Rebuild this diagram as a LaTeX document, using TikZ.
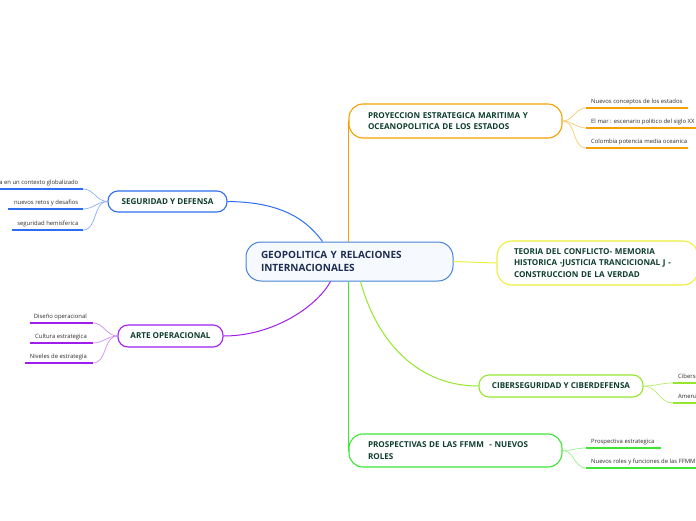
\documentclass[tikz,border=0pt]{standalone}
\usepackage{fontspec}
\setmainfont{Open Sans}
\usepackage{xcolor}
\usetikzlibrary{positioning}
\definecolor{geoborder}{RGB}{70,130,210}
\definecolor{geofill}{RGB}{246,250,255}
\definecolor{geotext}{RGB}{30,45,80}
\definecolor{topictext}{RGB}{14,62,46}
\definecolor{leaftext}{RGB}{45,45,45}
\definecolor{segblue}{RGB}{45,110,240}
\definecolor{artepurple}{RGB}{160,30,235}
\definecolor{proyorange}{RGB}{245,160,0}
\definecolor{teoyellow}{RGB}{238,238,60}
\definecolor{cibgreen}{RGB}{150,230,45}
\definecolor{prosgreen}{RGB}{60,230,50}

\begin{document}
\begin{tikzpicture}[x=1pt, y=-1pt]
    % Define styles
    \tikzstyle{central} = [rectangle, rounded corners=15pt, draw=geoborder, fill=geofill, line width=1pt, text=geotext, font=\bfseries\fontsize{10}{13}\selectfont, align=left, inner xsep=15pt]
    \tikzstyle{topic} = [rectangle, rounded corners=10pt, fill=white, line width=1.1pt, text=topictext, font=\bfseries\fontsize{8.1}{11.5}\selectfont]
    \tikzstyle{leafR} = [inner xsep=5pt, inner ysep=2.5pt, anchor=south west, text=leaftext, font=\fontsize{5.9}{7}\selectfont, text height=4.4pt, text depth=1.4pt]
    \tikzstyle{leafL} = [inner xsep=4.5pt, inner ysep=2.5pt, anchor=south east, text=leaftext, font=\fontsize{5.9}{7}\selectfont, text height=4.4pt, text depth=1.4pt]
    \tikzstyle{conn} = [line width=1pt]
    \tikzstyle{twig} = [line width=0.7pt]
    \tikzstyle{leafline} = [line width=1.8pt]

    \useasboundingbox (0,0) rectangle (696,520);

    % Nodes
    \node (geo) [central, minimum width=207pt, minimum height=39pt, text width=177pt] at (349.5,261.5) {GEOPOLITICA Y RELACIONES\\INTERNACIONALES};

    \node (segdef) [topic, draw=segblue, minimum width=119pt, minimum height=21pt] at (167.5,201.5) {SEGURIDAD Y DEFENSA};
    \node (arteop) [topic, draw=artepurple, minimum width=105pt, minimum height=22pt] at (170.5,336) {ARTE OPERACIONAL};
    \node (proyec) [topic, draw=proyorange, rounded corners=14pt, minimum width=213pt, minimum height=34pt, text width=175pt, inner xsep=19pt, align=left] at (455.5,121) {PROYECCION ESTRATEGICA MARITIMA Y\\OCEANOPOLITICA DE LOS ESTADOS};
    \node (teoria) [topic, draw=teoyellow, rounded corners=15pt, minimum width=201pt, minimum height=44pt, text width=167pt, inner xsep=17pt, align=left] at (597.5,263) {TEORIA DEL CONFLICTO- MEMORIA\\HISTORICA -JUSTICIA TRANCICIONAL J -\\CONSTRUCCION DE LA VERDAD};
    \node (ciber) [topic, draw=cibgreen, minimum width=164pt, minimum height=22pt] at (561,386) {CIBERSEGURIDAD Y CIBERDEFENSA};
    \node (prosp) [topic, draw=prosgreen, rounded corners=14pt, minimum width=213pt, minimum height=33pt, text width=175pt, inner xsep=19pt, align=left] at (455.5,450.5) {PROSPECTIVAS DE LAS FFMM \ - NUEVOS\\ROLES};

    \node (segdef1) [leafL] at (83,189) {a en un contexto globalizado};
    \node (segdef2) [leafL] at (83,209) {nuevos retos y desafios};
    \node (segdef3) [leafL] at (83,230) {seguridad hemisferica};

    \node (arteop1) [leafL, inner xsep=6pt] at (93,323) {Diseño operacional};
    \node (arteop2) [leafL, inner xsep=6pt] at (93,343) {Cultura estrategica};
    \node (arteop3) [leafL, inner xsep=6pt] at (93,363) {Niveles de estrategia};

    \node (proyec1) [leafR] at (586,108) {Nuevos conceptos de los estados};
    \node (proyec2) [leafR] at (586,128) {El mar : escenario politico del siglo XX};
    \node (proyec3) [leafR] at (586,148) {Colombia potencia media oceanica};

    \node (ciber1) [leafR] at (673,383) {Ciberse};
    \node (ciber2) [leafR] at (673,403) {Amenaza};

    \node (prosp1) [leafR] at (586,448) {Prospectiva estrategica};
    \node (prosp2) [leafR] at (586,468) {Nuevos roles y funciones de las FFMM};

    % Branches
    \draw [conn, segblue] (segdef.east) .. controls (285,202) and (308,222) .. ([xshift=-27pt]geo.north);
    \draw [conn, artepurple] (arteop.east) .. controls (275,336) and (318,305) .. ([xshift=-19pt]geo.south);
    \draw [conn, proyorange] (proyec.west |- geo.north) -- (proyec.west);
    \draw [conn, teoyellow] (geo.east) -- (teoria.west);
    \draw [conn, cibgreen] ([xshift=11pt]geo.south) .. controls (378,345) and (420,386) .. (ciber.west);
    \draw [conn, prosgreen] (prosp.west |- geo.south) -- (prosp.west);

    % Twigs
    \draw [twig, segblue!55] (segdef.west) to[out=180, in=0] (segdef1.south east);
    \draw [twig, segblue!55] (segdef.west) to[out=180, in=0] (segdef2.south east);
    \draw [twig, segblue!55] (segdef.west) to[out=180, in=0] (segdef3.south east);
    \draw [twig, artepurple!50] (arteop.west) to[out=180, in=0] (arteop1.south east);
    \draw [twig, artepurple!50] (arteop.west) to[out=180, in=0] (arteop2.south east);
    \draw [twig, artepurple!50] (arteop.west) to[out=180, in=0] (arteop3.south east);
    \draw [twig, proyorange!55] (proyec.east) to[out=0, in=180] (proyec1.south west);
    \draw [twig, proyorange!55] (proyec.east) to[out=0, in=180] (proyec2.south west);
    \draw [twig, proyorange!55] (proyec.east) to[out=0, in=180] (proyec3.south west);
    \draw [twig, cibgreen!70] (ciber.east) to[out=0, in=180] (ciber1.south west);
    \draw [twig, cibgreen!70] (ciber.east) to[out=0, in=180] (ciber2.south west);
    \draw [twig, prosgreen!55] (prosp.east) to[out=0, in=180] (prosp1.south west);
    \draw [twig, prosgreen!55] (prosp.east) to[out=0, in=180] (prosp2.south west);

    % Underlines
    \draw [leafline, segblue] (segdef1.south east) -- ++(-84,0);
    \draw [leafline, segblue] (segdef2.south east) -- ++(-75,0);
    \draw [leafline, segblue] (segdef3.south east) -- ++(-71,0);
    \draw [leafline, artepurple] (arteop1.south east) -- ++(-63,0);
    \draw [leafline, artepurple] (arteop2.south east) -- ++(-63,0);
    \draw [leafline, artepurple] (arteop3.south east) -- ++(-68,0);
    \draw [leafline, proyorange] (proyec1.south west) -- ++(102,0);
    \draw [leafline, proyorange] (proyec2.south west) -- ++(112,0);
    \draw [leafline, proyorange] (proyec3.south west) -- ++(102,0);
    \draw [leafline, cibgreen] (ciber1.south west) -- ++(25,0);
    \draw [leafline, cibgreen] (ciber2.south west) -- ++(25,0);
    \draw [leafline, prosgreen] (prosp1.south west) -- ++(75,0);
    \draw [leafline, prosgreen] (prosp2.south west) -- ++(112,0);
\end{tikzpicture}
\end{document}
